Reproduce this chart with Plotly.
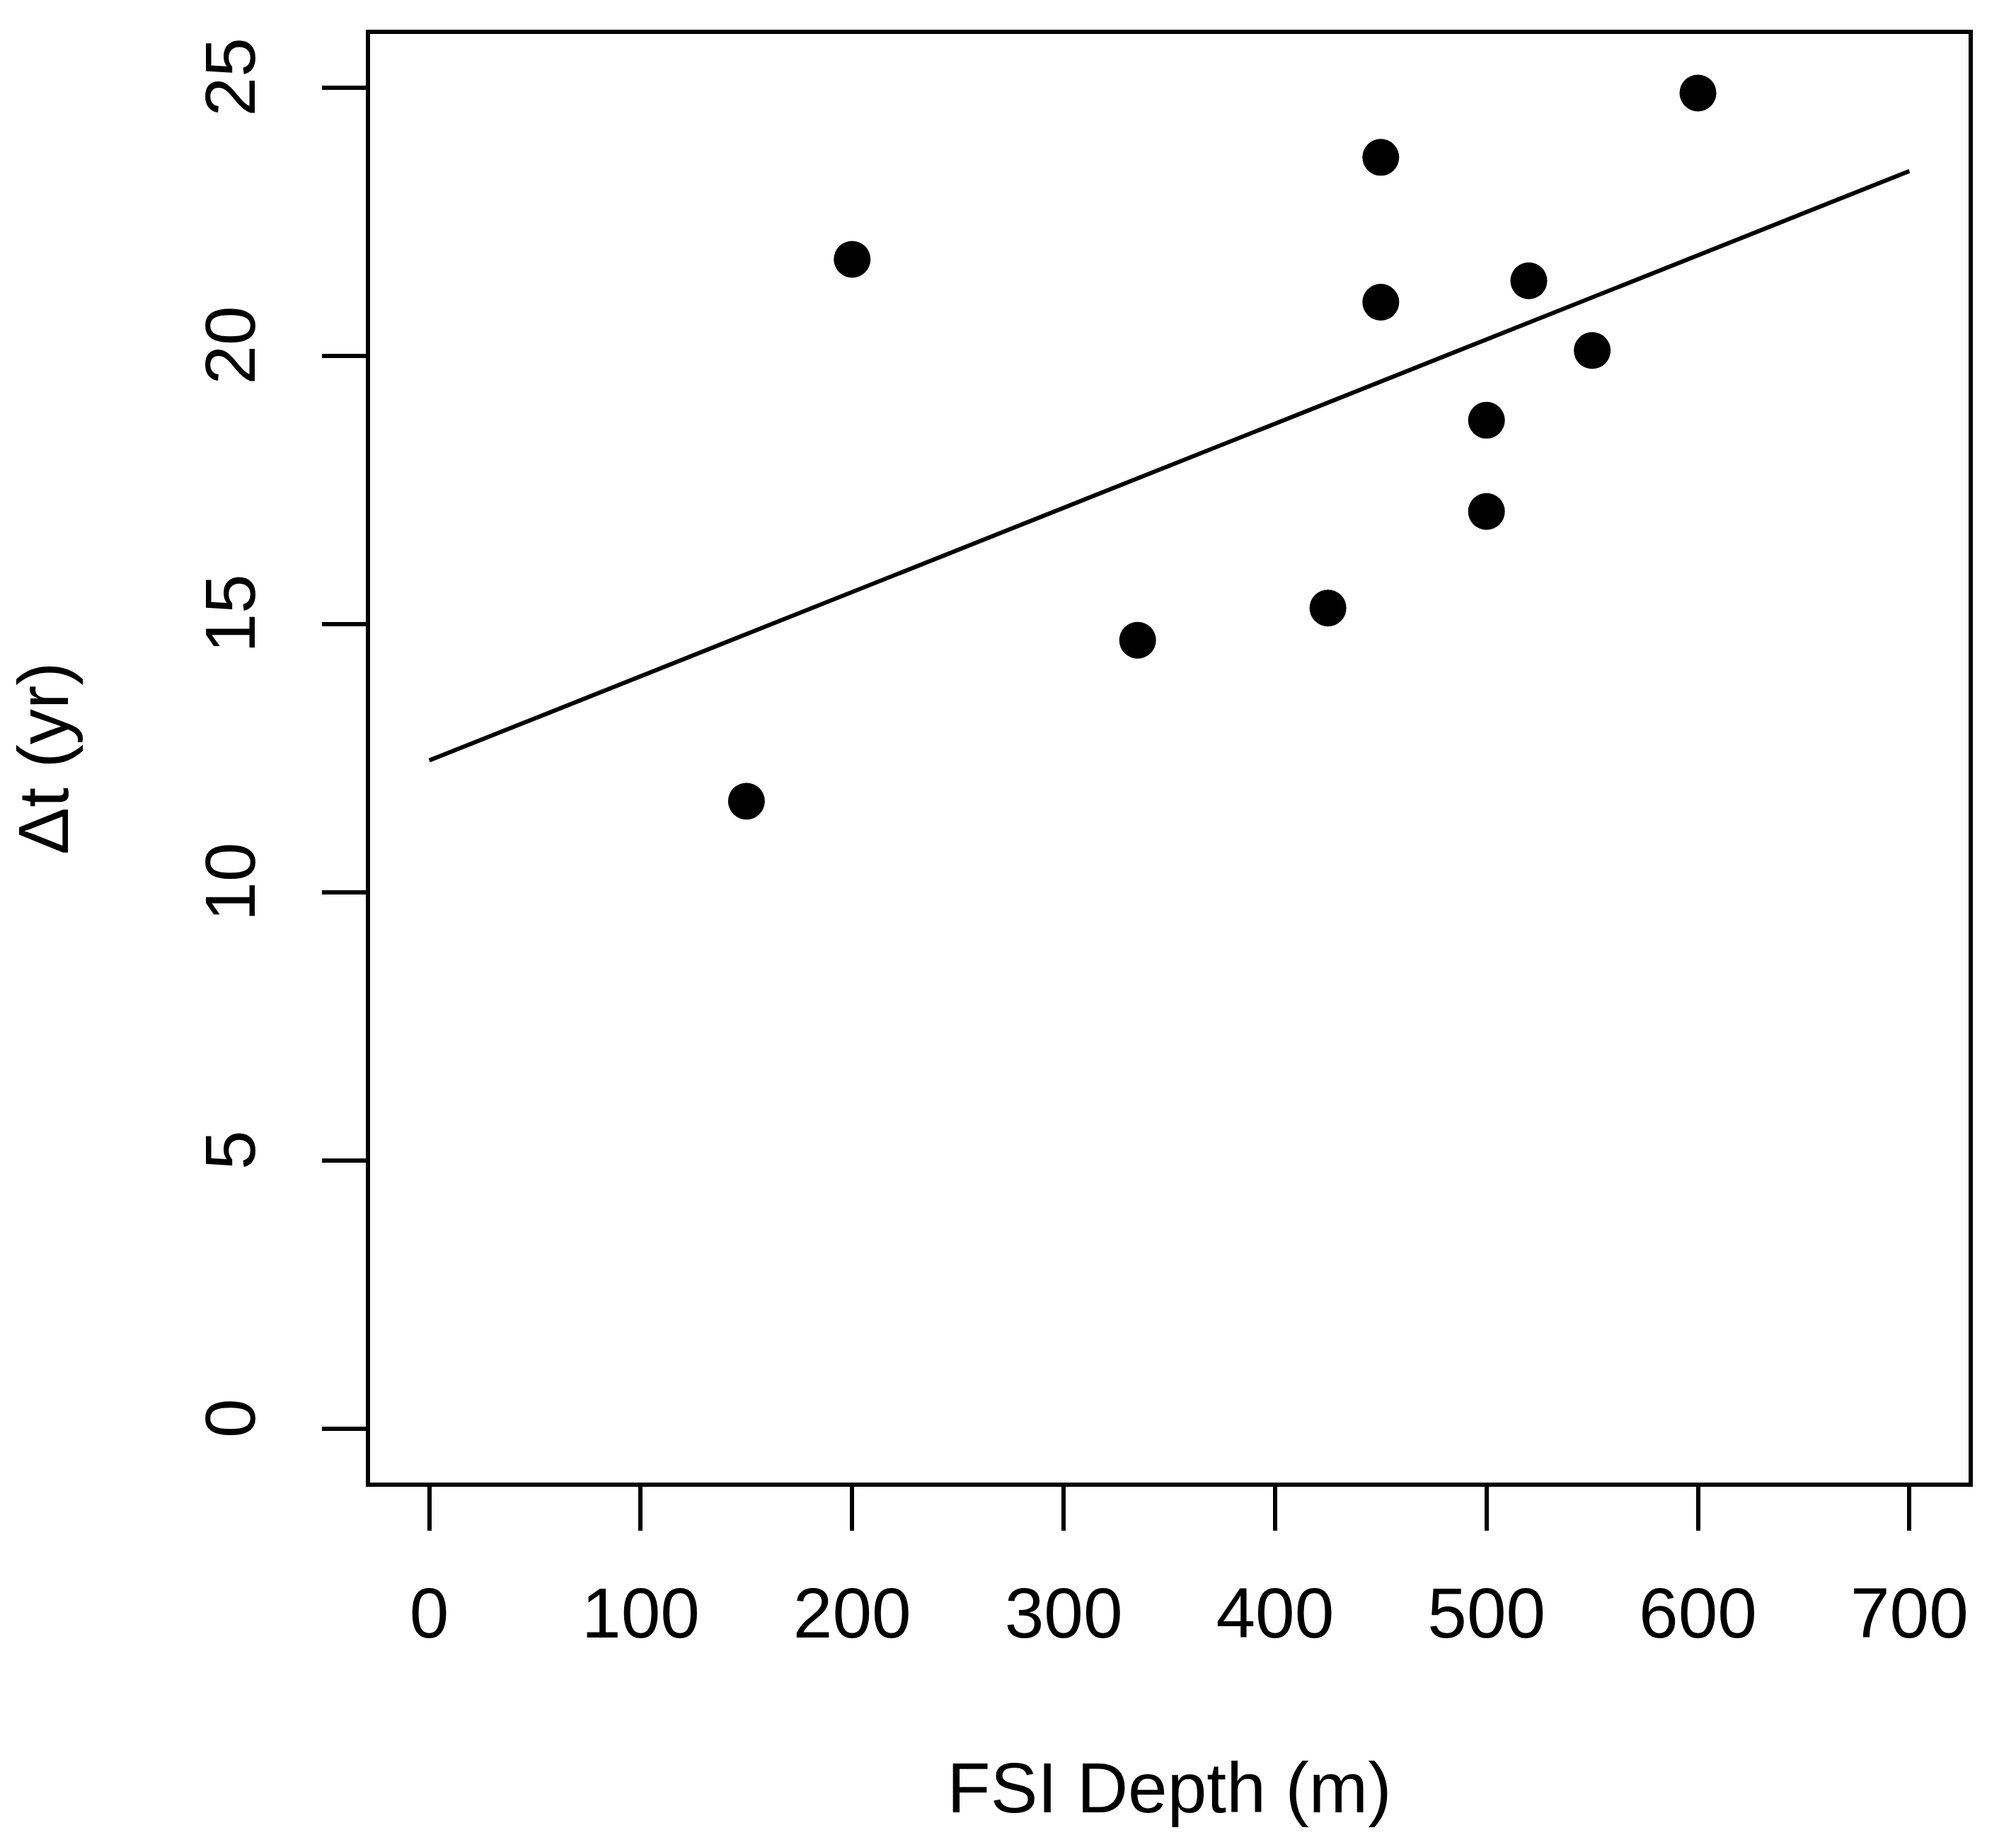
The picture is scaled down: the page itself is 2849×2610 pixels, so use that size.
import numpy as np
import plotly.graph_objects as go

# Data
fsi_depth_m = [150, 200, 335, 425, 450, 450, 500, 500, 520, 550, 600]
delta_t_yr = [11.7, 21.8, 14.7, 15.3, 23.7, 21.0, 18.8, 17.1, 21.4, 20.1, 24.9]
fit_range = [0, 700]

x_ticks = [0, 100, 200, 300, 400, 500, 600, 700]
y_ticks = [0, 5, 10, 15, 20, 25]
x_range = [-28, 728]
y_range = [-1, 26]

# Least-squares fit line
slope, intercept = np.polyfit(fsi_depth_m, delta_t_yr, 1)
fit_y = [slope * x + intercept for x in fit_range]

FONT = "Liberation Sans, Arial, sans-serif"

fig = go.Figure()
fig.add_trace(go.Scatter(
    x=fit_range, y=fit_y, mode="lines",
    line=dict(color="black", width=6), showlegend=False, hoverinfo="skip",
))
fig.add_trace(go.Scatter(
    x=fsi_depth_m, y=delta_t_yr, mode="markers",
    marker=dict(color="black", size=52, line=dict(width=0)),
    showlegend=False,
))

axis_common = dict(
    showline=True, linecolor="black", linewidth=6, mirror=True,
    ticks="outside", ticklen=62, tickwidth=6, tickcolor="black",
    showgrid=False, zeroline=False,
    tickfont=dict(family=FONT, size=100, color="black"),
)

fig.update_xaxes(
    range=x_range, tickvals=x_ticks, ticktext=[str(v) for v in x_ticks],
    title=dict(text="FSI Depth (m)", font=dict(family=FONT, size=100, color="black"), standoff=159),
    ticklabelstandoff=31,
    **axis_common,
)
fig.update_yaxes(
    range=y_range, tickvals=y_ticks, ticktext=[str(v) for v in y_ticks],
    tickangle=-90,
    title=dict(text="Δt (yr)", font=dict(family=FONT, size=100, color="black"), standoff=141),
    ticklabelstandoff=55,
    **axis_common,
)

fig.update_layout(
    width=2849, height=2610,
    margin=dict(l=523, r=67, t=48, b=515, pad=0),
    plot_bgcolor="white", paper_bgcolor="white",
    font=dict(family=FONT, color="black"),
)

fig.write_html("out.html", config={"displayModeBar": False},
               post_script="document.body.style.margin='0';")
